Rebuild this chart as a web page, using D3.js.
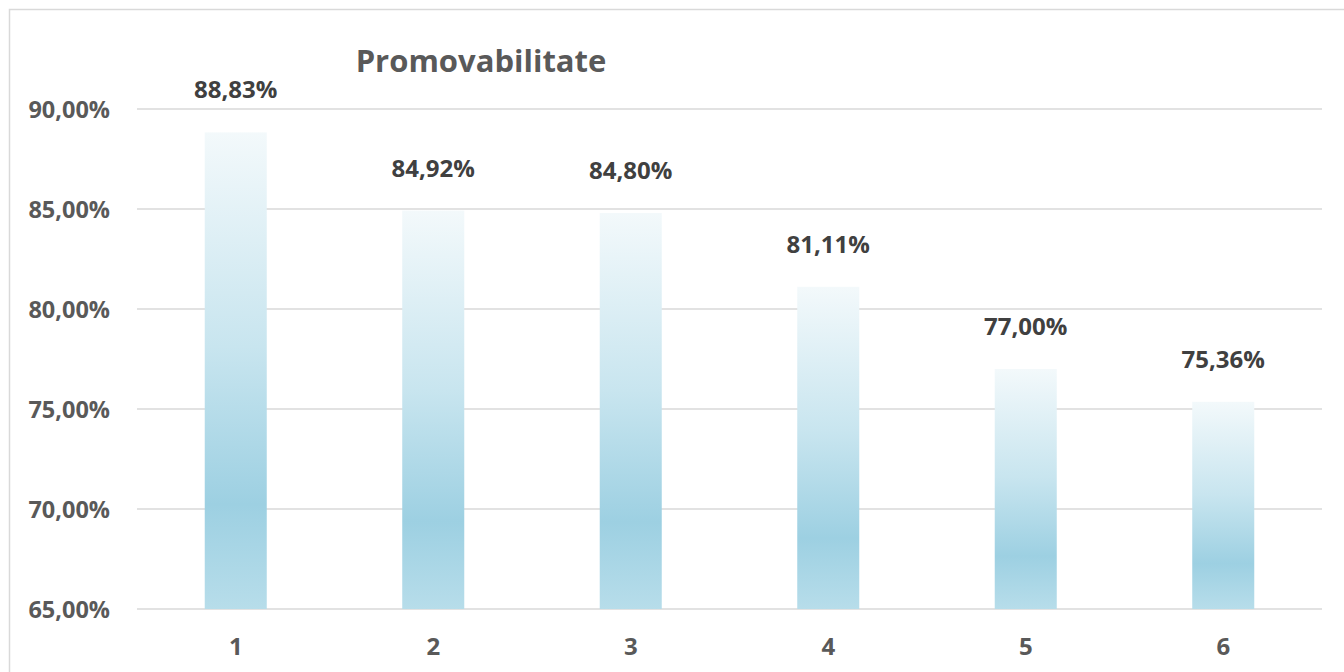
<!DOCTYPE html>
<html><head><meta charset="utf-8">
<script src="https://cdn.jsdelivr.net/npm/d3@7"></script>
<style>html,body{margin:0;padding:0;background:#fff;}svg{display:block;}</style>
</head><body>
<script>
const categories = ["1","2","3","4","5","6"];
const values = [88.83, 84.92, 84.80, 81.11, 77.00, 75.36];
const yTicks = [65, 70, 75, 80, 85, 90];
const title = "Promovabilitate";

const W = 1344, H = 672;
const fmt = v => v.toFixed(2).replace(".", ",") + "%";
const font = "'Open Sans', 'DejaVu Sans', sans-serif";

const svg = d3.select("body").append("svg").attr("width", W).attr("height", H);
const defs = svg.append("defs");
const grad = defs.append("linearGradient").attr("id","barGrad")
  .attr("x1","0").attr("y1","0").attr("x2","0").attr("y2","1");
[[0,"#f3f9fb"],[0.45,"#c8e5ef"],[0.78,"#9dd0e2"],[1,"#b7ddea"]].forEach(([o,c]) =>
  grad.append("stop").attr("offset", o).attr("stop-color", c));

svg.append("rect").attr("x",9.5).attr("y",9.5).attr("width",W).attr("height",H)
  .attr("fill","#fff").attr("stroke","#d9d9d9").attr("stroke-width",1.5);

const x = d3.scaleBand().domain(categories).range([137, 1322]).paddingInner(0.686).paddingOuter(0.343);
const y = d3.scaleLinear().domain([65, 90]).range([609, 109]);

// gridlines
svg.append("g").selectAll("line").data(yTicks).join("line")
  .attr("x1",137).attr("x2",1322).attr("y1",d=>y(d)).attr("y2",d=>y(d))
  .attr("stroke","#d9d9d9").attr("stroke-width",1.5);

// y axis labels
const yAxis = d3.axisLeft(y).tickValues(yTicks).tickFormat(fmt).tickSize(0).tickPadding(0);
const yg = svg.append("g").attr("transform","translate(110,1)").call(yAxis);
yg.select(".domain").remove();
yg.selectAll("text").attr("font-family",font).attr("font-weight","bold")
  .attr("font-size",23.5).attr("fill","#595959");

// bars
svg.append("g").selectAll("rect").data(values).join("rect")
  .attr("x",(d,i)=>x(categories[i])).attr("width",x.bandwidth())
  .attr("y",d=>y(d)).attr("height",d=>y(65)-y(d))
  .attr("fill","url(#barGrad)");

// data labels
svg.append("g").selectAll("text").data(values).join("text")
  .attr("x",(d,i)=>x(categories[i])+x.bandwidth()/2)
  .attr("y",d=>y(d)-34)
  .attr("text-anchor","middle").attr("font-family",font).attr("font-weight","bold")
  .attr("font-size",24).attr("fill","#404040").text(fmt);

// x axis labels
const xAxis = d3.axisBottom(x).tickSize(0).tickPadding(0);
const xg = svg.append("g").attr("transform","translate(0,638)").call(xAxis);
xg.select(".domain").remove();
xg.selectAll("text").attr("dy","0.71em").attr("font-family",font).attr("font-weight","bold")
  .attr("font-size",24).attr("fill","#595959");

// title
svg.append("text").attr("x",481).attr("y",72).attr("text-anchor","middle")
  .attr("font-family",font).attr("font-weight","bold").attr("font-size",31)
  .attr("fill","#595959").text(title);
</script>
</body></html>
